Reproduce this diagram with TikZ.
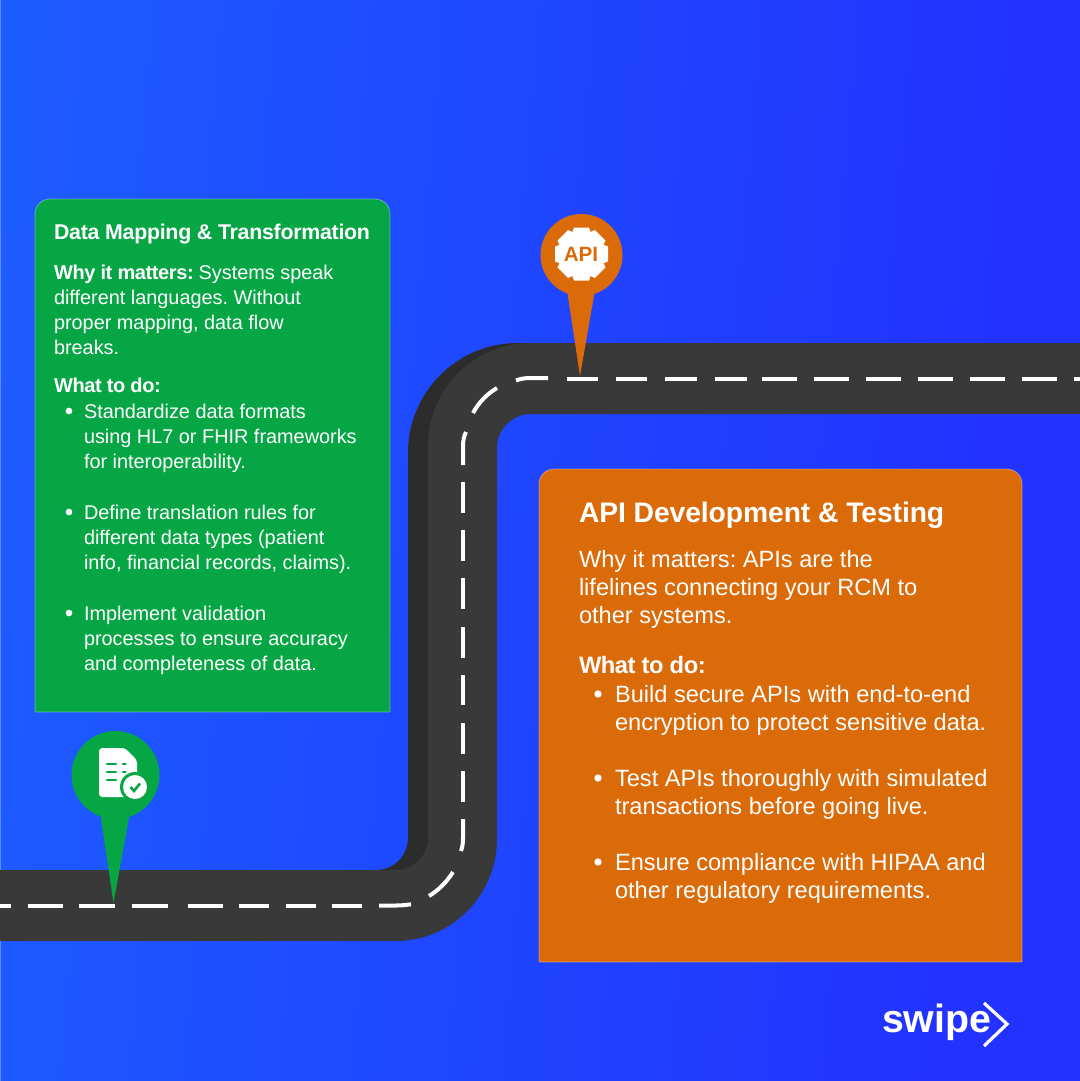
\documentclass[tikz,border=0pt]{standalone}
\usepackage{fontspec}
\setmainfont{Liberation Sans}
\newfontfamily\bdfont[LetterSpace=-2,UprightFont=* Bold]{Liberation Sans}
\newfontfamily\btfont[LetterSpace=-1.2,UprightFont=* Bold]{Liberation Sans}
\newfontfamily\bofont[LetterSpace=-0.3,UprightFont=* Bold]{Liberation Sans}
\newfontfamily\bafont[UprightFont=* Bold]{Liberation Sans}
\usetikzlibrary{calc}
\definecolor{cgreen}{HTML}{07A645}
\definecolor{corange}{HTML}{DB6A09}
\definecolor{croad}{HTML}{393939}
\definecolor{cdark}{HTML}{2C2C2C}
\definecolor{bgA}{HTML}{1C72FF}
\definecolor{bgB}{HTML}{1D52FF}
\definecolor{bgC}{HTML}{2233FF}
\pgfdeclareverticalshading{bgshade}{100bp}{color(0bp)=(bgC);color(30bp)=(bgC);color(65bp)=(bgB);color(100bp)=(bgA)}
\tikzset{
  txt/.style={anchor=base west,text=white,inner sep=0pt,outer sep=0pt},
  gbody/.style={txt,font=\fontsize{14.9pt}{18pt}\selectfont\frenchspacing},
  gbold/.style={txt,font=\fontsize{15pt}{18pt}\bdfont\selectfont\frenchspacing},
  gtitle/.style={txt,font=\fontsize{16pt}{20pt}\btfont\selectfont},
  obody/.style={txt,font=\fontsize{17.7pt}{20pt}\selectfont\frenchspacing},
  obold/.style={txt,font=\fontsize{17.8pt}{20pt}\bdfont\selectfont},
  otitle/.style={txt,font=\fontsize{21.2pt}{26pt}\bofont\selectfont},
  dashline/.style={draw=white,line width=3pt},
  card/.style={line width=0.6pt,draw=white,draw opacity=0.35},
  bulletdot/.style={circle,fill=white,inner sep=0pt,minimum size=#1},
}
\begin{document}
\begin{tikzpicture}[x=0.75pt,y=-0.75pt]
\useasboundingbox (0,0) rectangle (1080,1081);
\shade[shading=bgshade,shading angle=85] (-1,-1) rectangle (1081,1082);
\draw[white,draw opacity=0.3,line width=0.75pt] (0,0) rectangle (1080,1081);
% road: dark side band
\fill[cdark] (376,870)
  .. controls (393.7,870) and (408,855.7) .. (408,838)
  -- (408,453)
  .. controls (408,392) and (457,343) .. (518,343)
  -- (531,343) -- (440,446) -- (440,880) -- (376,880) -- cycle;
% road: main surface
\fill[croad] (0,870) -- (396,870)
  .. controls (413.7,870) and (428,855.7) .. (428,838)
  -- (428,446)
  .. controls (428,389.1) and (474.1,343) .. (531,343)
  -- (1080,343) -- (1080,414) -- (531,414)
  .. controls (512.2,414) and (497,429.2) .. (497,448)
  -- (497,839)
  .. controls (497,895.3) and (451.3,941) .. (396,941)
  -- (0,941) -- cycle;
% centre line
\foreach \a/\b in {0/11,28/63,79/115,132/168,188/223,239/269,286/316,332/362}
  \draw[dashline] (\a,905.5) -- (\b,905.5);
\draw[dashline] (379,905.5) -- (396,905.5) .. controls (401,905.5) and (406,905) .. (411,904.3);
\draw[dashline] (429,896) .. controls (438,890.5) and (446,883) .. (453,872);
\draw[dashline] (461,851) .. controls (462.5,847) and (463,843) .. (463,838) -- (463,819);
\foreach \a/\b in {482/513,530/561,578/609,627/658,675/705,723/754,771/802}
  \draw[dashline] (463,\a) -- (463,\b);
\draw[dashline] (463,465) -- (463,446) .. controls (463,441) and (464,436) .. (466,432);
\draw[dashline] (473,413) .. controls (479,402) and (487,394) .. (497,388);
\draw[dashline] (516,380.5) .. controls (521,378.5) and (526,378) .. (531,378) -- (548,378);
\foreach \a/\b in {567/598,616/647,665/697,715/747,762/797,814/849,866/901,918/953,970/1005,1022/1057,1074/1081}
  \draw[dashline] (\a,378.5) -- (\b,378.5);
% green card
\path[fill=cgreen,card] (35,712) -- (35,214)
  .. controls (35,205.7) and (41.7,199) .. (50,199) -- (375,199)
  .. controls (383.3,199) and (390,205.7) .. (390,214) -- (390,712) -- cycle;
\node[gtitle] (gt) at (54,239) {Data Mapping \& Transformation};
\node[gbold] (g1a) at (54,279) {Why it matters:};
\node[gbody,anchor=base west] (g1b) at ($(g1a.base east)+(5,0)$) {Systems speak};
\node[gbody] (g2) at (54,304) {different languages. Without};
\node[gbody] (g3) at (54,329) {proper mapping, data flow};
\node[gbody] (g4) at (54,354) {breaks.};
\node[gbold] (g5) at (54,392.5) {What to do:};
\node[bulletdot=5pt] (gb1) at (69,411) {};
\node[gbody] (g6) at (84,418) {Standardize data formats};
\node[gbody] (g7) at (84,443) {using HL7 or FHIR frameworks};
\node[gbody] (g8) at (84,468) {for interoperability.};
\node[bulletdot=5pt] (gb2) at (69,512) {};
\node[gbody] (g9) at (84,519) {Define translation rules for};
\node[gbody] (g10) at (84,544) {different data types (patient};
\node[gbody] (g11) at (84,569) {info, financial records, claims).};
\node[bulletdot=5pt] (gb3) at (69,613) {};
\node[gbody] (g12) at (84,620) {Implement validation};
\node[gbody] (g13) at (84,645) {processes to ensure accuracy};
\node[gbody] (g14) at (84,670) {and completeness of data.};
% orange card
\path[fill=corange,card] (539,962) -- (539,484)
  .. controls (539,475.7) and (545.7,469) .. (554,469) -- (1007,469)
  .. controls (1015.3,469) and (1022,475.7) .. (1022,484) -- (1022,962) -- cycle;
\node[otitle] (ot) at (579,522) {API Development \& Testing};
\node[obody] (o1) at (579,567) {Why it matters: APIs are the};
\node[obody] (o2) at (579,595) {lifelines connecting your RCM to};
\node[obody] (o3) at (579,623) {other systems.};
\node[obold] (o4) at (579,673.5) {What to do:};
\node[bulletdot=5.5pt] (ob1) at (598,694) {};
\node[obody] (o5) at (615,702) {Build secure APIs with end-to-end};
\node[obody] (o6) at (615,730) {encryption to protect sensitive data.};
\node[bulletdot=5.5pt] (ob2) at (598,778) {};
\node[obody] (o7) at (615,786) {Test APIs thoroughly with simulated};
\node[obody] (o8) at (615,814) {transactions before going live.};
\node[bulletdot=5.5pt] (ob3) at (598,862) {};
\node[obody] (o9) at (615,870) {Ensure compliance with HIPAA and};
\node[obody] (o10) at (615,898) {other regulatory requirements.};
% green pin
\fill[cgreen] (115.5,775) circle [radius=44];
\fill[cgreen] (100,812) -- (130,812) -- (113.5,903) -- cycle;
\fill[white,rounded corners=2.5pt] (99,748) -- (125,748) -- (137,760) -- (137,797) -- (99,797) -- cycle;
\foreach \yy in {764,772,780}
  \draw[cgreen,line width=2.1pt,line cap=round] (107,\yy) -- (116,\yy);
\draw[cgreen,line width=2.1pt,line cap=round] (123,764) -- (125.5,764);
\draw[cgreen,line width=2.1pt,line cap=round] (123,772) -- (125.5,772);
\fill[cgreen] (135,787) circle [radius=15];
\fill[white] (135,787) circle [radius=12];
\draw[cgreen,line width=1.9pt,line join=miter] (130.5,787) -- (134,791) -- (140,783.5);
% orange pin
\fill[corange] (581.5,255) circle [radius=41];
\fill[corange] (567,290) -- (595,290) -- (580,376) -- cycle;
\fill[white] (581.5,254) circle [radius=22];
\foreach \ang in {0,45,...,315}
  \fill[white,rotate around={\ang:(581.5,254)}] (571,236) -- (574,227.5) -- (589,227.5) -- (592,236) -- cycle;
\node[txt,anchor=center,text=corange,font=\fontsize{15.5pt}{18pt}\bafont\selectfont] (apil) at (581,254.5) {API};
% logo
\node[txt,font=\fontsize{29.5pt}{34pt}\bafont\selectfont] (logo) at (882,1032) {swipe};
\coordinate (ch1) at (984,1003);
\coordinate (ch2) at (1007,1024);
\coordinate (ch3) at (984,1046);
\draw[white,line width=2.4pt] (ch1) -- (ch2) -- (ch3);
\end{tikzpicture}
\end{document}
